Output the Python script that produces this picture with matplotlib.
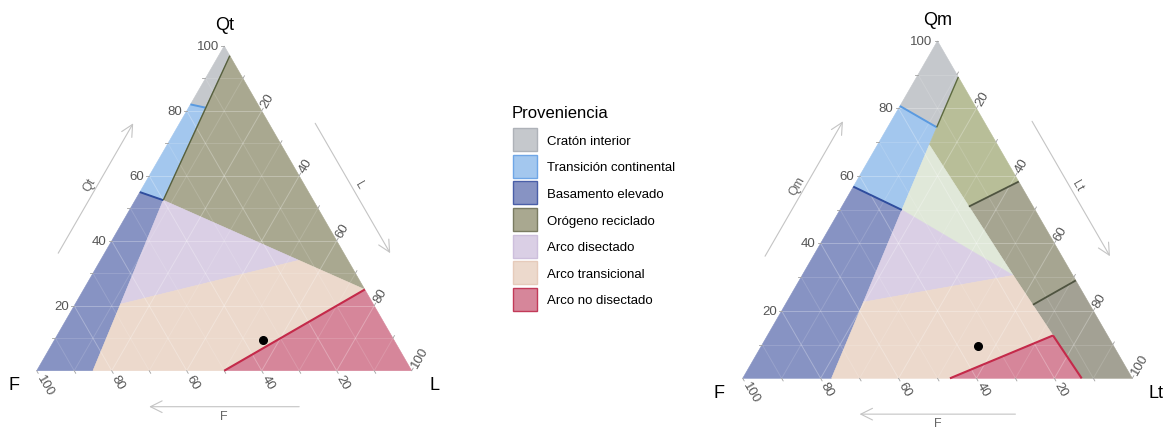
import numpy as np
import matplotlib
matplotlib.use('Agg')
import matplotlib.pyplot as plt
from matplotlib.patches import Polygon, Patch

plt.rcParams['font.family'] = ['Liberation Sans', 'DejaVu Sans']

S3 = np.sqrt(3) / 2

# --- Diagrama QtFL: vertices de cada campo (Qt, F, L) ---
craton_qtfl = [(100, 0, 0), (82, 18, 0), (81, 14.5, 4.5), (97, 0, 3)]
transcont_qtfl = [(82, 18, 0), (55, 45, 0), (52.5, 40, 7.5), (81, 14.5, 4.5)]
basamento_qtfl = [(55, 45, 0), (0, 100, 0), (0, 85, 15), (52.5, 40, 7.5)]
reciclado_qtfl = [(97, 0, 3), (81, 14.5, 4.5), (52.5, 40, 7.5), (25, 0, 75)]
disectado_qtfl = [(52.5, 40, 7.5), (34, 13.1, 52.9), (20.5, 67.4, 12.1)]
transarc_qtfl = [(20.5, 67.4, 12.1), (34, 13.1, 52.9), (25, 0, 75), (0, 50, 50), (0, 85, 15)]
nodisect_qtfl = [(25, 0, 75), (0, 0, 100), (0, 50, 50)]
muestra_qtfl = (9.5, 34.8, 55.7)

# --- Diagrama QmFLt: vertices de cada campo (Qm, F, Lt) ---
craton_qmflt = [(100, 0, 0), (80.7, 19.3, 0), (74.4, 13.0, 12.6), (89.3, 0, 10.7)]
transcont_qmflt = [(80.7, 19.3, 0), (56.8, 43.2, 0), (49.9, 34.2, 15.9), (69.2, 17.5, 13.3), (74.4, 13.0, 12.6)]
basamento_qmflt = [(56.8, 43.2, 0), (0, 100, 0), (0, 77.2, 22.8), (22.6, 57.7, 19.7), (49.9, 34.2, 15.9)]
cuarzoso_qmflt = [(89.3, 0, 10.7), (58.3, 0, 41.7), (50.9, 16.5, 32.6), (69.2, 17.5, 13.3), (74.4, 13.0, 12.6)]
transrec_qmflt = [(58.3, 0, 41.7), (29, 0, 71), (21.8, 14.6, 63.6), (30.5, 15.3, 54.2), (50.9, 16.5, 32.6)]
litico_qmflt = [(29, 0, 71), (0, 0, 100), (0, 13, 87), (12.7, 14.0, 73.3), (21.8, 14.6, 63.6)]
mixto_qmflt = [(69.2, 17.5, 13.3), (49.9, 34.2, 15.9), (30.5, 15.3, 54.2)]
disectado_qmflt = [(49.9, 34.2, 15.9), (22.6, 57.7, 19.7), (30.5, 15.3, 54.2)]
transarc_qmflt = [(22.6, 57.7, 19.7), (0, 77.2, 22.8), (0, 46.8, 53.2), (12.7, 14.0, 73.3), (30.5, 15.3, 54.2)]
nodisect_qmflt = [(0, 46.8, 53.2), (0, 13, 87), (12.7, 14.0, 73.3)]
muestra_qmflt = (9.5, 34.8, 55.7)

proveniencia = ['Cratón interior', 'Transición continental', 'Basamento elevado',
                'Orógeno reciclado', 'Arco disectado', 'Arco transicional', 'Arco no disectado']
relleno = ['#c5c8cc', '#a3c7ee', '#8793c3', '#a9a890', '#dacfe5', '#ecd9cc', '#d6869a']
borde = ['#aeb2b8', '#6fa6e6', '#4a5fa8', '#7a7b62', '#cdbfdc', '#e6cbbb', '#c23a58']
marcas = [20, 40, 60, 80, 100]


def xy(pts):
    p = np.array(pts, dtype=float).reshape(-1, 3)
    p = p / p.sum(axis=1, keepdims=True) * 100
    return np.column_stack([p[:, 2] + p[:, 0] / 2, p[:, 0] * S3])


def ternario(ax, campos, lineas, muestra, nombres, px, yarrow):
    # px: unidades por pixel
    for pts, fc in campos:
        ax.add_patch(Polygon(xy(pts), closed=True, fc=fc, ec=fc, lw=0.4, zorder=1))
    for a, b, c, w in lineas:
        p = xy([a, b])
        ax.plot(p[:, 0], p[:, 1], color=c, lw=w, zorder=3, solid_capstyle='butt')
    # rejilla
    for v in range(10, 100, 10):
        al = 0.28 if v % 20 == 0 else 0.14
        for seg in ([(v, 100 - v, 0), (v, 0, 100 - v)],
                    [(0, v, 100 - v), (100 - v, v, 0)],
                    [(0, 100 - v, v), (100 - v, 0, v)]):
            p = xy(seg)
            ax.plot(p[:, 0], p[:, 1], color='white', lw=0.7, alpha=al, zorder=2)
    # marcas y etiquetas
    tk = '#a0a0a0'
    for v in range(10, 101, 10):
        # eje superior (lado izquierdo)
        x0, y0 = xy([(v, 100 - v, 0)])[0]
        ax.plot([x0, x0 - 3 * px], [y0, y0], color=tk, lw=0.6, clip_on=False)
        # eje izquierdo (lado inferior)
        x1, y1 = xy([(0, v, 100 - v)])[0]
        ax.plot([x1, x1 + 3 * px * 0.5], [y1, y1 - 3 * px * S3], color=tk, lw=0.6, clip_on=False)
        # eje derecho (lado derecho)
        x2, y2 = xy([(100 - v, 0, v)])[0]
        ax.plot([x2, x2 + 3 * px * 0.5], [y2, y2 + 3 * px * S3], color=tk, lw=0.6, clip_on=False)
        if v in marcas:
            ax.text(x0 - 5 * px, y0, str(v), ha='right', va='center', fontsize=9.5, color='#555555')
            ax.text(x1 + 5 * px * 0.5, y1 - 5 * px * S3, str(v), ha='left', va='center', rotation=-60,
                    rotation_mode='anchor', fontsize=9.5, color='#555555')
            ax.text(x2 + 5 * px * 0.5, y2 + 5 * px * S3, str(v), ha='left', va='center', rotation=60,
                    rotation_mode='anchor', fontsize=9.5, color='#555555')
    # punto de la muestra
    m = xy([muestra])[0]
    ax.plot(m[0], m[1], 'o', color='black', ms=5.5, zorder=5)
    # nombres de vertices
    top, left, right = nombres
    ax.text(50, 100 * S3 + 5.6, top, ha='center', va='center', fontsize=13)
    ax.text(-6.0, -3.6, left, ha='center', va='center', fontsize=13)
    ax.text(106.0, -3.6, right, ha='center', va='center', fontsize=13)
    # flechas de los ejes
    ap = dict(arrowstyle='->,head_length=0.7,head_width=0.35', color='#c4c4c4', lw=0.8,
              shrinkA=0, shrinkB=0, mutation_scale=12)
    d = 10.7
    nl = np.array([-S3, 0.5]) * d
    a0 = xy([(30, 70, 0)])[0] + nl
    a1 = xy([(70, 30, 0)])[0] + nl
    ax.annotate('', xy=a1, xytext=a0, arrowprops=ap, annotation_clip=False)
    mid = xy([(50, 50, 0)])[0] + np.array([-S3, 0.5]) * (d + 1.9)
    ax.text(mid[0], mid[1], top, rotation=60, ha='center', va='center', fontsize=9, color='#666666')
    nr = np.array([S3, 0.5]) * d
    b0 = xy([(70, 0, 30)])[0] + nr
    b1 = xy([(30, 0, 70)])[0] + nr
    ax.annotate('', xy=b1, xytext=b0, arrowprops=ap, annotation_clip=False)
    mid = xy([(50, 0, 50)])[0] + np.array([S3, 0.5]) * (d + 1.9)
    ax.text(mid[0], mid[1], right, rotation=-60, ha='center', va='center', fontsize=9, color='#666666')
    ax.annotate('', xy=(30, yarrow), xytext=(70, yarrow), arrowprops=ap, annotation_clip=False)
    ax.text(50, yarrow - 2.4, left, ha='center', va='center', fontsize=9, color='#666666')
    ax.axis('off')


fig = plt.figure(figsize=(11.71, 4.31), dpi=100)

# diagrama izquierdo (3.75 px por unidad)
ax1 = fig.add_axes([0, 0, 470 / 1171, 1])
ax1.set_xlim(-36.7 / 3.75, (470 - 36.7) / 3.75)
ax1.set_ylim((371.7 - 431) / 3.75, 371.7 / 3.75)
campos1 = [(craton_qtfl, relleno[0]), (transcont_qtfl, relleno[1]),
           (basamento_qtfl, relleno[2]), (reciclado_qtfl, relleno[3]),
           (disectado_qtfl, relleno[4]), (transarc_qtfl, relleno[5]),
           (nodisect_qtfl, relleno[6])]
lineas1 = [(craton_qtfl[1], craton_qtfl[2], '#5a9ae0', 1.4),
           (basamento_qtfl[0], basamento_qtfl[3], '#2f4d9e', 1.4),
           (reciclado_qtfl[0], reciclado_qtfl[2], '#56603f', 1.0),
           (nodisect_qtfl[0], nodisect_qtfl[2], '#c42a4a', 1.5)]
ternario(ax1, campos1, lineas1, muestra_qtfl, ('Qt', 'F', 'L'), 1 / 3.75, -9.6)

# diagrama derecho (3.896 px por unidad)
ax2 = fig.add_axes([690 / 1171, 0, 481 / 1171, 1])
ax2.set_xlim((690 - 742.7) / 3.896, (1171 - 742.7) / 3.896)
ax2.set_ylim((379.3 - 431) / 3.896, 379.3 / 3.896)
campos2 = [(craton_qmflt, relleno[0]), (transcont_qmflt, relleno[1]),
           (basamento_qmflt, relleno[2]), (cuarzoso_qmflt, '#b8be98'),
           (transrec_qmflt, '#a6a591'), (litico_qmflt, '#a3a194'),
           (mixto_qmflt, '#e0e8d9'), (disectado_qmflt, relleno[4]),
           (transarc_qmflt, relleno[5]), (nodisect_qmflt, relleno[6])]
lineas2 = [(craton_qmflt[1], craton_qmflt[2], '#5a9ae0', 1.4),
           (basamento_qmflt[0], basamento_qmflt[4], '#2f4d9e', 1.4),
           (craton_qmflt[3], craton_qmflt[2], '#5d6a40', 1.0),
           (transrec_qmflt[0], transrec_qmflt[4], '#4f5440', 1.3),
           (litico_qmflt[0], litico_qmflt[4], '#4f5440', 1.3),
           (nodisect_qmflt[0], nodisect_qmflt[2], '#c42a4a', 1.5),
           (nodisect_qmflt[2], nodisect_qmflt[1], '#c42a4a', 1.5)]
ternario(ax2, campos2, lineas2, muestra_qmflt, ('Qm', 'F', 'Lt'), 1 / 3.896, -9.2)

# leyenda
fig.text(512 / 1171, 1 - 114 / 431, 'Proveniencia', ha='left', va='center', fontsize=12)
handles = [Patch(fc=f, ec=e, lw=1) for f, e in zip(relleno, borde)]
leg = fig.legend(handles, proveniencia, loc='upper left',
                 bbox_to_anchor=(513 / 1171, 1 - 129 / 431), frameon=False, fontsize=9.5,
                 handlelength=1.8, handleheight=2.3, labelspacing=0.28,
                 handletextpad=0.75, borderpad=0, borderaxespad=0)

fig.savefig('out.png', dpi=100)
